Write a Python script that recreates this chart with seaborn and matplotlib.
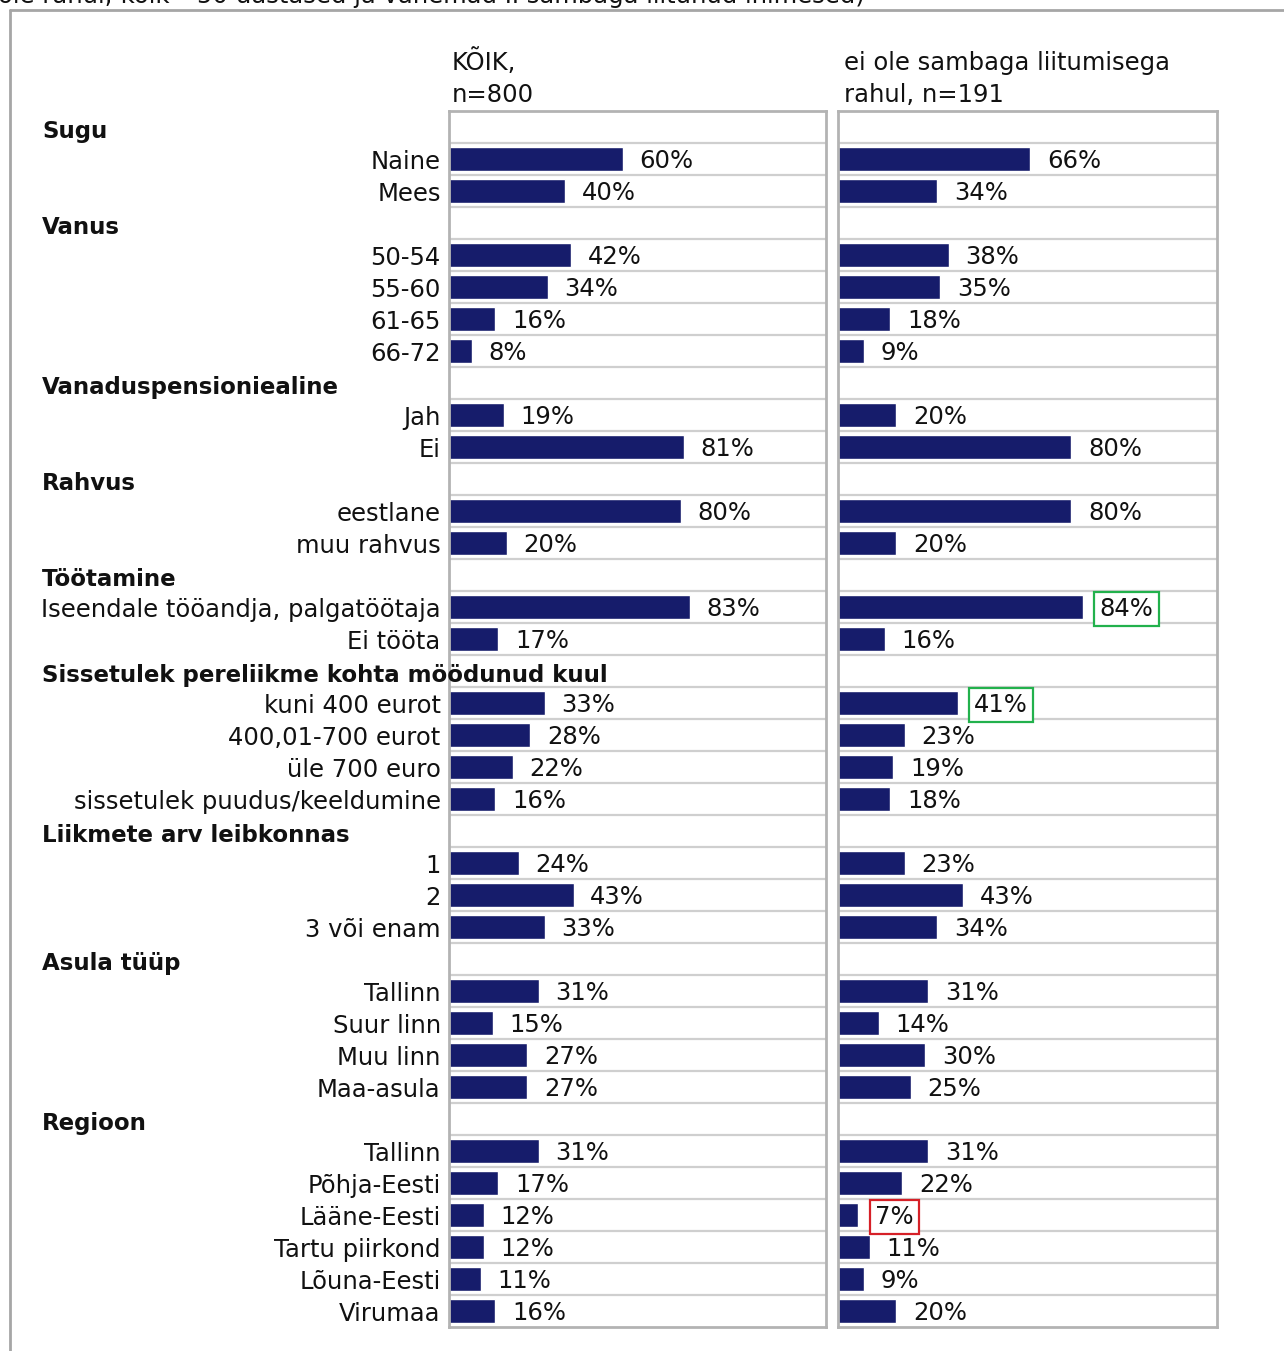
import matplotlib
matplotlib.use("Agg")
import matplotlib.pyplot as plt
from matplotlib.lines import Line2D
import seaborn as sns
import pandas as pd

# ---- data -------------------------------------------------------------
groups = ["Sugu", "Vanus", "Vanaduspensioniealine", "Rahvus", "Töötamine",
          "Sissetulek pereliikme kohta möödunud kuul", "Liikmete arv leibkonnas",
          "Asula tüüp", "Regioon"]
group_sizes = [2, 4, 2, 2, 2, 4, 3, 4, 6]
categories = ["Naine", "Mees",
              "50-54", "55-60", "61-65", "66-72",
              "Jah", "Ei",
              "eestlane", "muu rahvus",
              "Iseendale tööandja, palgatöötaja", "Ei tööta",
              "kuni 400 eurot", "400,01-700 eurot", "üle 700 euro",
              "sissetulek puudus/keeldumine",
              "1", "2", "3 või enam",
              "Tallinn", "Suur linn", "Muu linn", "Maa-asula",
              "Tallinn", "Põhja-Eesti", "Lääne-Eesti", "Tartu piirkond",
              "Lõuna-Eesti", "Virumaa"]
pct_all = [60, 40,
           42, 34, 16, 8,
           19, 81,
           80, 20,
           83, 17,
           33, 28, 22, 16,
           24, 43, 33,
           31, 15, 27, 27,
           31, 17, 12, 12, 11, 16]
pct_unhappy = [66, 34,
               38, 35, 18, 9,
               20, 80,
               80, 20,
               84, 16,
               41, 23, 19, 18,
               23, 43, 34,
               31, 14, 30, 25,
               31, 22, 7, 11, 9, 20]
column_titles = ["KÕIK,\nn=800", "ei ole sambaga liitumisega\nrahul, n=191"]
subtitle = "ole rahul; kõik – 50-aastased ja vanemad II sambaga liitunud inimesed)"
# categories whose value is outlined in the second column
marked_index = [10, 12, 25]
marked_color = ["#22b14c", "#22b14c", "#d62027"]

# ---- styling ----------------------------------------------------------
sns.set_theme(style="white")
plt.rcParams["font.family"] = ["DejaVu Sans"]
NAVY = "#161c6b"
GRID = "#cfcfcf"
FRAME = "#b3b3b3"
FS = 17.5
FS_HEAD = 16.5
INK = "#111111"

# ---- table with header rows -------------------------------------------
rows = []
k = 0
for g, n in zip(groups, group_sizes):
    rows.append(dict(row=f"r{len(rows)}", label=g, header=True,
                     all=float("nan"), unhappy=float("nan"), idx=-1))
    for _ in range(n):
        rows.append(dict(row=f"r{len(rows)}", label=categories[k], header=False,
                         all=pct_all[k], unhappy=pct_unhappy[k], idx=k))
        k += 1
df = pd.DataFrame(rows)
order = list(df["row"])
nrows = len(order)

W, H = 1284, 1351
fig = plt.figure(figsize=(W / 100, H / 100), dpi=100)


def fx(px):
    return px / W


def fy(py):
    return 1 - py / H


top, bottom = 111, 1327
ax1 = fig.add_axes([fx(449), fy(bottom), fx(826) - fx(449), fy(top) - fy(bottom)])
ax2 = fig.add_axes([fx(838), fy(bottom), fx(1217) - fx(838), fy(top) - fy(bottom)])

for ax, col in ((ax1, "all"), (ax2, "unhappy")):
    sns.barplot(data=df, x=col, y="row", order=order, orient="h", color=NAVY,
                width=0.75, errorbar=None, saturation=1, ax=ax)
    ax.set_xlim(0, 130)
    ax.set_ylim(nrows - 0.5, -0.5)
    ax.set_xlabel("")
    ax.set_ylabel("")
    ax.set_xticks([])
    ax.set_yticks([])
    for b in range(nrows - 1):
        ax.axhline(b + 0.5, color=GRID, lw=1.6, zorder=0)
    for s in ax.spines.values():
        s.set_color(FRAME)
        s.set_linewidth(2)
    for i, r in df.iterrows():
        if r["header"]:
            continue
        v = r[col]
        bbox = None
        if col == "unhappy" and r["idx"] in marked_index:
            c = marked_color[marked_index.index(r["idx"])]
            bbox = dict(boxstyle="square,pad=0.22", fc="white", ec=c, lw=1.6)
        ax.annotate(f"{v:.0f}%", xy=(v, i), xytext=(12, -1.5),
                    textcoords="offset points", ha="left", va="center",
                    fontsize=FS, color=INK, bbox=bbox)

# row labels and group headers
for i, r in df.iterrows():
    if r["header"]:
        ax1.annotate(r["label"], xy=(fx(42), i), xytext=(0, -3),
                     textcoords="offset points",
                     xycoords=("figure fraction", "data"),
                     ha="left", va="center", fontsize=FS_HEAD,
                     fontweight="bold", color=INK,
                     annotation_clip=False, zorder=10)
    else:
        ax1.annotate(r["label"], xy=(0, i), xycoords=("axes fraction", "data"),
                     xytext=(-6, -2.5), textcoords="offset points",
                     ha="right", va="center", fontsize=FS, color=INK,
                     annotation_clip=False)

# column titles
fig.text(fx(452), fy(107), column_titles[0], ha="left", va="bottom",
         fontsize=FS, linespacing=1.4, color=INK)
fig.text(fx(844), fy(107), column_titles[1], ha="left", va="bottom",
         fontsize=FS, linespacing=1.4, color=INK)

# subtitle line running off the top edge
fig.text(fx(-2), fy(3), subtitle, ha="left", va="baseline", fontsize=FS,
         color=INK)

# outer frame
fig.add_artist(Line2D([fx(10), fx(W + 5)], [fy(10), fy(10)], color="#a6a6a6",
                      lw=2, transform=fig.transFigure))
fig.add_artist(Line2D([fx(10), fx(10)], [fy(10), fy(H + 5)], color="#a6a6a6",
                      lw=2, transform=fig.transFigure))

fig.savefig("out.png", dpi=100, facecolor="white")
